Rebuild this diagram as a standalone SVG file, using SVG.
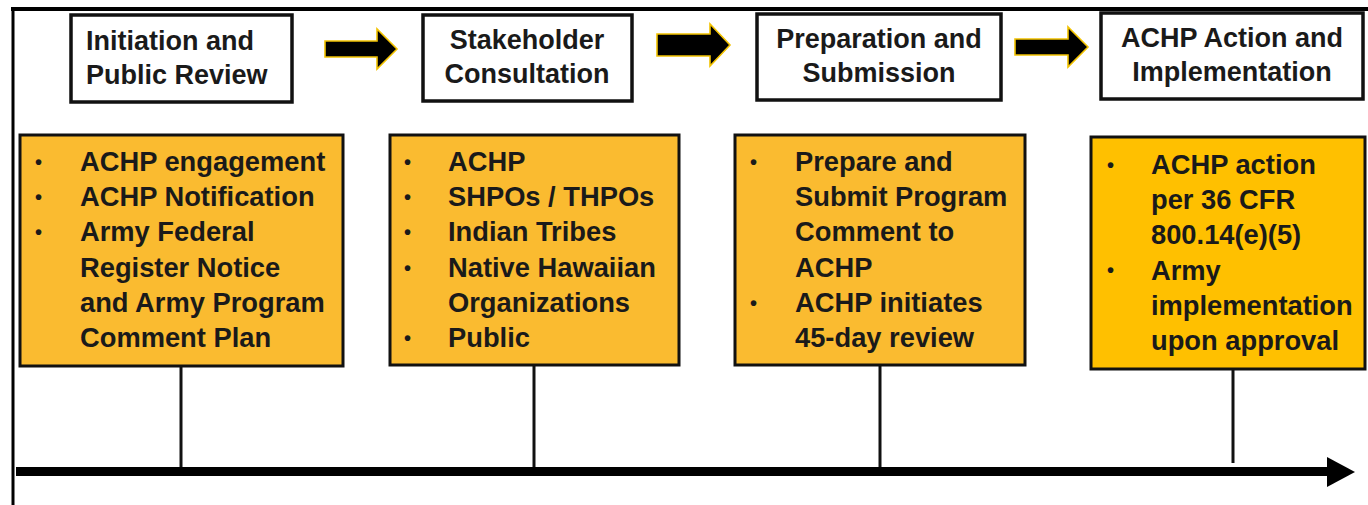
<svg xmlns="http://www.w3.org/2000/svg" width="1368" height="505" viewBox="0 0 1368 505">
<style>
.hdr{fill:#fff;stroke:#111;stroke-width:3.5}
.card{fill:#FABB30;stroke:#111;stroke-width:3}
.card2{fill:#FFC000;stroke:#111;stroke-width:3}
.ht{font-family:"Liberation Sans",Arial,sans-serif;font-weight:bold;font-size:27px;fill:#1a1a1a}
.bt{font-family:"Liberation Sans",Arial,sans-serif;font-weight:bold;font-size:27.3px;fill:#1a1a1a}
.bul{font-family:"Liberation Sans",Arial,sans-serif;font-weight:bold;font-size:20px;fill:#1a1a1a}
.step{fill:#000;stroke:#F2C200;stroke-width:1.6;stroke-linejoin:miter}
.stem{stroke:#111;stroke-width:3;fill:none}
</style>
<rect width="1368" height="505" fill="#fff"/>
<g id="frame">
<line x1="11" y1="9" x2="1368" y2="9" stroke="#000" stroke-width="4"/>
<line x1="13" y1="7" x2="13" y2="505" stroke="#000" stroke-width="3"/>
</g>
<g id="connectors">
<polygon class="step" points="325,41 377,41 377,29 397,49 377,69 377,57 325,57"/>
<polygon class="step" points="657,34 710,34 710,24 730,45 710,66 710,56 657,56"/>
<polygon class="step" points="1015,39 1068,39 1068,27 1088,47 1068,67 1068,55 1015,55"/>
<line class="stem" x1="181" y1="366" x2="181" y2="468"/>
<line class="stem" x1="534" y1="365" x2="534" y2="468"/>
<line class="stem" x1="880" y1="365" x2="880" y2="468"/>
<line class="stem" x1="1233" y1="369" x2="1233" y2="463"/>
<line x1="16" y1="471.5" x2="1330" y2="471.5" stroke="#000" stroke-width="9"/>
<polygon points="1327,457 1355,472 1327,487" fill="#000"/>
</g>
<g id="h1">
<rect class="hdr" x="71" y="15" width="221" height="87"/>
<text class="ht" x="86" y="50">Initiation and</text>
<text class="ht" x="86" y="84">Public Review</text>
</g>
<g id="h2">
<rect class="hdr" x="423" y="15" width="209" height="86"/>
<text class="ht" x="527" y="49" text-anchor="middle">Stakeholder</text>
<text class="ht" x="527" y="83" text-anchor="middle">Consultation</text>
</g>
<g id="h3">
<rect class="hdr" x="757" y="14" width="244" height="86"/>
<text class="ht" x="879" y="48" text-anchor="middle">Preparation and</text>
<text class="ht" x="879" y="82" text-anchor="middle">Submission</text>
</g>
<g id="h4">
<rect class="hdr" x="1101" y="13" width="262" height="86"/>
<text class="ht" x="1232" y="47" text-anchor="middle">ACHP Action and</text>
<text class="ht" x="1232" y="81" text-anchor="middle">Implementation</text>
</g>
<g id="c1">
<rect class="card" x="20" y="135" width="323" height="231"/>
<text class="bul" x="35" y="169">•</text>
<text class="bul" x="35" y="204">•</text>
<text class="bul" x="35" y="239">•</text>
<text class="bt" x="80" y="171">ACHP engagement</text>
<text class="bt" x="80" y="206">ACHP Notification</text>
<text class="bt" x="80" y="241">Army Federal</text>
<text class="bt" x="80" y="277">Register Notice</text>
<text class="bt" x="80" y="312">and Army Program</text>
<text class="bt" x="80" y="347">Comment Plan</text>
</g>
<g id="c2">
<rect class="card" x="390" y="135" width="289" height="230"/>
<text class="bul" x="404" y="169">•</text>
<text class="bul" x="404" y="204">•</text>
<text class="bul" x="404" y="239">•</text>
<text class="bul" x="404" y="275">•</text>
<text class="bul" x="404" y="345">•</text>
<text class="bt" x="448" y="171">ACHP</text>
<text class="bt" x="448" y="206">SHPOs / THPOs</text>
<text class="bt" x="448" y="241">Indian Tribes</text>
<text class="bt" x="448" y="277">Native Hawaiian</text>
<text class="bt" x="448" y="312">Organizations</text>
<text class="bt" x="448" y="347">Public</text>
</g>
<g id="c3">
<rect class="card" x="735" y="135" width="290" height="230"/>
<text class="bul" x="750" y="169">•</text>
<text class="bul" x="750" y="310">•</text>
<text class="bt" x="795" y="171">Prepare and</text>
<text class="bt" x="795" y="206">Submit Program</text>
<text class="bt" x="795" y="241">Comment to</text>
<text class="bt" x="795" y="277">ACHP</text>
<text class="bt" x="795" y="312">ACHP initiates</text>
<text class="bt" x="795" y="347">45-day review</text>
</g>
<g id="c4">
<rect class="card2" x="1091" y="137" width="274" height="232"/>
<text class="bul" x="1107" y="172">•</text>
<text class="bul" x="1107" y="277">•</text>
<text class="bt" x="1151" y="174">ACHP action</text>
<text class="bt" x="1151" y="209">per 36 CFR</text>
<text class="bt" x="1151" y="244">800.14(e)(5)</text>
<text class="bt" x="1151" y="280">Army</text>
<text class="bt" x="1151" y="315">implementation</text>
<text class="bt" x="1151" y="350">upon approval</text>
</g>
</svg>
